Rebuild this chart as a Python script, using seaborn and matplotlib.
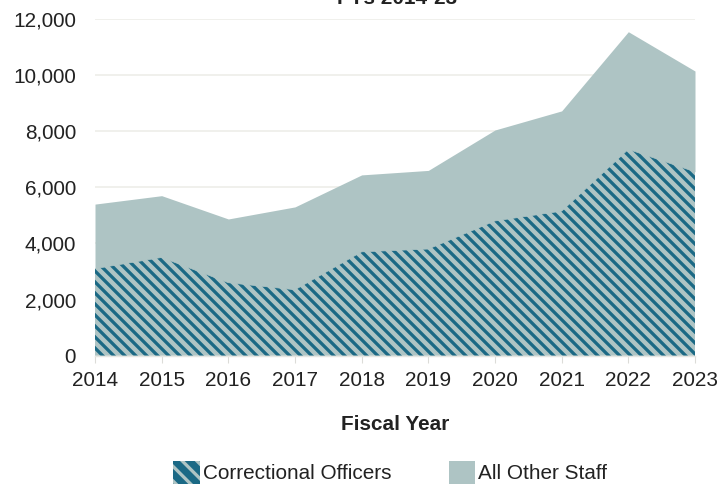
import numpy as np
import pandas as pd
import matplotlib
matplotlib.use("Agg")
import matplotlib.pyplot as plt
import matplotlib.patches as mpatches
import seaborn as sns

# data
years = [2014, 2015, 2016, 2017, 2018, 2019, 2020, 2021, 2022, 2023]
officers = [3100, 3500, 2600, 2350, 3700, 3800, 4800, 5150, 7350, 6550]
other_staff = [2300, 2200, 2270, 2950, 2740, 2800, 3240, 3570, 4190, 3590]
yticks = [0, 2000, 4000, 6000, 8000, 10000, 12000]

df = pd.DataFrame({"year": years, "co": officers, "other": other_staff})
df["total"] = df["co"] + df["other"]

dark = "#1b6985"
light = "#aec4c4"
txt = "#222222"
hatch = "\\" * 4   # 24 lines per inch -> ~11px stripes at 132 dpi

sns.set_style("white")
plt.rcParams["font.family"] = ["Liberation Sans", "DejaVu Sans"]
plt.rcParams["hatch.linewidth"] = 1.8
plt.rcParams["hatch.color"] = dark

fs = 11.3
fig = plt.figure(figsize=(726 / 132, 485 / 132), dpi=132)
ax = fig.add_axes([95 / 726, 1 - 355.7 / 485, 600 / 726, 336.9 / 485])

ax.fill_between(df["year"], df["co"], df["total"], facecolor=light, linewidth=0)
ax.fill_between(df["year"], 0, df["co"], facecolor=light, edgecolor=dark,
                hatch=hatch, linewidth=0)
sns.lineplot(x=df["year"], y=df["co"], ax=ax, color=light, linewidth=0.4)

ax.set_xlim(2014, 2023)
ax.set_ylim(0, 12000)
ax.set_xticks(years)
ax.set_xticklabels([str(y) for y in years])
ax.set_yticks(yticks)
ax.set_yticklabels([f"{v:,}" for v in yticks])
ax.set_xlabel("")
ax.set_ylabel("")
ax.yaxis.grid(True, color="#eeede8", linewidth=0.9)
ax.set_axisbelow(True)
sns.despine(ax=ax, left=True, top=True, right=True, bottom=False)
ax.spines["bottom"].set_color("#e6e6e2")
ax.spines["bottom"].set_linewidth(0.8)
ax.tick_params(axis="y", length=0, pad=10.4, labelsize=fs, labelcolor=txt)
ax.tick_params(axis="x", length=3.8, width=0.6, color="#dcdcd8", pad=4.4,
               labelsize=fs, labelcolor=txt, bottom=True)

# title sits mostly above the canvas, as in the reference
fig.text(397 / 726, 1 - 4.5 / 485, "FYs 2014-23", ha="center", va="baseline",
         fontsize=fs, fontweight="bold", color=txt)
fig.text(395 / 726, 1 - 430 / 485, "Fiscal Year", ha="center", va="baseline",
         fontsize=fs, fontweight="bold", color=txt)

# legend swatch: dark with wide light stripes
plt.rcParams["hatch.linewidth"] = 3.0
co_patch = mpatches.Patch(facecolor=dark, edgecolor=light, hatch="\\\\\\", linewidth=0,
                          label="Correctional Officers")
plt.rcParams["hatch.linewidth"] = 1.8
handles = [co_patch, mpatches.Patch(facecolor=light, linewidth=0, label="All Other Staff")]
fig.legend(handles=handles, loc="center", bbox_to_anchor=(390.4 / 726, 1 - 472.5 / 485),
           ncol=2, frameon=False, fontsize=fs, borderpad=0, handlelength=1.26,
           handleheight=1.26, handletextpad=0.16, columnspacing=2.78,
           labelcolor=txt)

fig.savefig("out.png", dpi=132)
